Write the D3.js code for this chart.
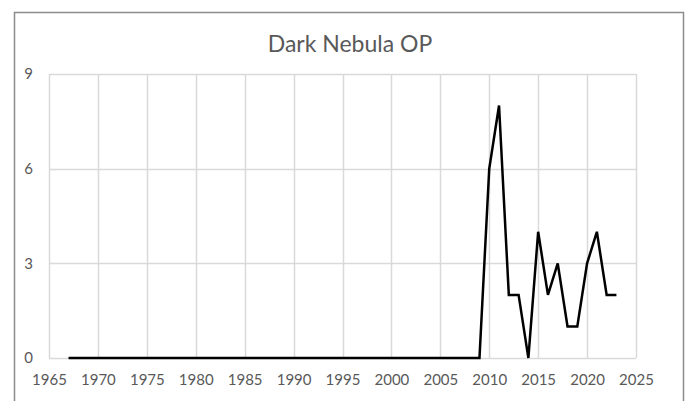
<!DOCTYPE html>
<html>
<head>
<meta charset="utf-8">
<script src="https://cdn.jsdelivr.net/npm/d3@7"></script>
<style>
  body { margin: 0; background: #fff; }
  svg text { font-family: Lato, "Open Sans", sans-serif; fill: #595959; }
</style>
</head>
<body>
<div id="chart"></div>
<script>
// data
var title = 'Dark Nebula OP';
var years = d3.range(1967, 2024);
var opValues = [
  0, 0, 0, 0, 0, 0, 0, 0, 0, 0,   // 1967-1976
  0, 0, 0, 0, 0, 0, 0, 0, 0, 0,   // 1977-1986
  0, 0, 0, 0, 0, 0, 0, 0, 0, 0,   // 1987-1996
  0, 0, 0, 0, 0, 0, 0, 0, 0, 0,   // 1997-2006
  0, 0, 0, 6, 8, 2, 2, 0, 4, 2,   // 2007-2016
  3, 1, 1, 3, 4, 2, 2             // 2017-2023
];
var xTicks = d3.range(1965, 2026, 5);
var yTicks = [0, 3, 6, 9];

var data = years.map(function (y, i) { return { year: y, value: opValues[i] }; });

var W = 688, H = 401;
var margin = { top: 74, right: 52, bottom: 43, left: 49 },
    width = W - margin.left - margin.right,
    height = H - margin.top - margin.bottom;

var svg = d3.select('#chart').append('svg')
    .attr('width', W)
    .attr('height', H);

// outer chart frame (runs off the bottom of the picture)
svg.append('rect')
    .attr('x', 14.5).attr('y', 12.5)
    .attr('width', 669).attr('height', 420)
    .attr('fill', 'none')
    .attr('stroke', '#8c8c8c')
    .attr('stroke-width', 1.5);

svg.append('text')
    .attr('x', 350)
    .attr('y', 52)
    .attr('text-anchor', 'middle')
    .style('font-size', '23px')
    .text(title);

var g = svg.append('g')
    .attr('transform', 'translate(' + margin.left + ',' + margin.top + ')');

var x = d3.scaleLinear().domain([1965, 2025]).range([0, width]);
var y = d3.scaleLinear().domain([0, 9]).range([height, 0]);

// gridlines
g.append('g')
    .selectAll('line.v')
    .data(xTicks)
    .enter().append('line')
    .attr('x1', function (d) { return Math.round(x(d)) + 0.5; })
    .attr('x2', function (d) { return Math.round(x(d)) + 0.5; })
    .attr('y1', 0).attr('y2', height)
    .attr('stroke', '#d9d9d9').attr('stroke-width', 1.5);

g.append('g')
    .selectAll('line.h')
    .data(yTicks)
    .enter().append('line')
    .attr('x1', 0).attr('x2', width)
    .attr('y1', function (d) { return Math.round(y(d)) + 0.5; })
    .attr('y2', function (d) { return Math.round(y(d)) + 0.5; })
    .attr('stroke', '#d9d9d9').attr('stroke-width', 1.5);

// axes (labels only)
var xAxis = g.append('g')
    .attr('transform', 'translate(0,' + height + ')')
    .call(d3.axisBottom(x).tickValues(xTicks).tickFormat(d3.format('d')).tickSize(0).tickPadding(16));
xAxis.select('.domain').remove();
xAxis.selectAll('text').style('font-size', '15px').attr('fill', '#595959');

var yAxis = g.append('g')
    .call(d3.axisLeft(y).tickValues(yTicks).tickSize(0).tickPadding(16));
yAxis.select('.domain').remove();
yAxis.selectAll('text').style('font-size', '15px').attr('fill', '#595959');

// the line
var valueline = d3.line()
    .x(function (d) { return x(d.year); })
    .y(function (d) { return y(d.value); });

g.append('path')
    .datum(data)
    .attr('fill', 'none')
    .attr('stroke', '#000')
    .attr('stroke-width', 2.5)
    .attr('stroke-linejoin', 'miter')
    .attr('d', valueline);
</script>
</body>
</html>
